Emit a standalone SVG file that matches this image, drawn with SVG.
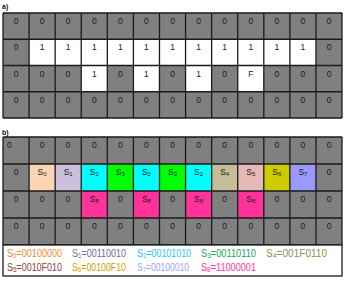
<svg xmlns="http://www.w3.org/2000/svg" width="349" height="286" viewBox="0 0 349 286">
<style>
.t{font-family:"Liberation Sans",Arial,sans-serif;font-size:8.5px;fill:#1a1a1a;text-anchor:middle}
.tl{text-anchor:start}
.s{font-size:6px}
.hd{font-family:"Liberation Sans",Arial,sans-serif;font-size:7px;font-weight:bold;fill:#111}
.lg{font-family:"Liberation Sans",Arial,sans-serif;font-size:10px}
.ls{font-size:7px}
.gl{stroke:#1a1a1a;stroke-width:1.3;fill:none}
.g{fill:#808080}
.w{fill:#fff}
</style>
<rect width="349" height="286" fill="#fff"/>
<text class="hd" x="2" y="9">a)</text>
<text class="hd" x="2" y="135">b)</text>

<g id="gridA">
<rect class="g" x="3" y="13" width="339" height="105"/>
<rect class="w" x="29.08" y="39.25" width="286.88" height="26.25"/>
<rect class="w" x="81.24" y="65.5" width="26.08" height="26.25"/>
<rect class="w" x="133.4" y="65.5" width="26.08" height="26.25"/>
<rect class="w" x="185.56" y="65.5" width="26.08" height="26.25"/>
<rect class="w" x="237.72" y="65.5" width="26.08" height="26.25"/>
<path class="gl" d="M3 13H342M3 39.25H342M3 65.5H342M3 91.75H342M3 118H342M3 13V118M29.08 13V118M55.16 13V118M81.24 13V118M107.32 13V118M133.4 13V118M159.48 13V118M185.56 13V118M211.64 13V118M237.72 13V118M263.8 13V118M289.88 13V118M315.96 13V118M342 13V118"/>
<g class="t">
<text x="16.04" y="24">0</text><text x="42.12" y="24">0</text><text x="68.2" y="24">0</text><text x="94.28" y="24">0</text><text x="120.36" y="24">0</text><text x="146.44" y="24">0</text><text x="172.52" y="24">0</text><text x="198.6" y="24">0</text><text x="224.68" y="24">0</text><text x="250.76" y="24">0</text><text x="276.84" y="24">0</text><text x="302.92" y="24">0</text><text x="329" y="24">0</text>
<text x="16.04" y="50.25">0</text><text x="42.12" y="50.25">1</text><text x="68.2" y="50.25">1</text><text x="94.28" y="50.25">1</text><text x="120.36" y="50.25">1</text><text x="146.44" y="50.25">1</text><text x="172.52" y="50.25">1</text><text x="198.6" y="50.25">1</text><text x="224.68" y="50.25">1</text><text x="250.76" y="50.25">1</text><text x="276.84" y="50.25">1</text><text x="302.92" y="50.25">1</text><text x="329" y="50.25">0</text>
<text x="16.04" y="76.5">0</text><text x="42.12" y="76.5">0</text><text x="68.2" y="76.5">0</text><text x="94.28" y="76.5">1</text><text x="120.36" y="76.5">0</text><text x="146.44" y="76.5">1</text><text x="172.52" y="76.5">0</text><text x="198.6" y="76.5">1</text><text x="224.68" y="76.5">0</text><text x="250.76" y="76.5">F</text><text x="276.84" y="76.5">0</text><text x="302.92" y="76.5">0</text><text x="329" y="76.5">0</text>
<text x="16.04" y="102.75">0</text><text x="42.12" y="102.75">0</text><text x="68.2" y="102.75">0</text><text x="94.28" y="102.75">0</text><text x="120.36" y="102.75">0</text><text x="146.44" y="102.75">0</text><text x="172.52" y="102.75">0</text><text x="198.6" y="102.75">0</text><text x="224.68" y="102.75">0</text><text x="250.76" y="102.75">0</text><text x="276.84" y="102.75">0</text><text x="302.92" y="102.75">0</text><text x="329" y="102.75">0</text>
</g>
</g>

<g id="gridB">
<rect class="g" x="3" y="137" width="339" height="108"/>
<rect fill="#FCD5B4" x="29.08" y="164" width="26.08" height="27"/>
<rect fill="#CCC0DA" x="55.16" y="164" width="26.08" height="27"/>
<rect fill="#00FFFF" x="81.24" y="164" width="26.08" height="27"/>
<rect fill="#00FF00" x="107.32" y="164" width="26.08" height="27"/>
<rect fill="#00FFFF" x="133.4" y="164" width="26.08" height="27"/>
<rect fill="#00FF00" x="159.48" y="164" width="26.08" height="27"/>
<rect fill="#00FFFF" x="185.56" y="164" width="26.08" height="27"/>
<rect fill="#C4BD97" x="211.64" y="164" width="26.08" height="27"/>
<rect fill="#E6B8B7" x="237.72" y="164" width="26.08" height="27"/>
<rect fill="#CCCC00" x="263.8" y="164" width="26.08" height="27"/>
<rect fill="#9999FF" x="289.88" y="164" width="26.08" height="27"/>
<rect fill="#FF3399" x="81.24" y="191" width="26.08" height="27"/>
<rect fill="#FF3399" x="133.4" y="191" width="26.08" height="27"/>
<rect fill="#FF3399" x="185.56" y="191" width="26.08" height="27"/>
<rect fill="#FF3399" x="237.72" y="191" width="26.08" height="27"/>
<path class="gl" d="M3 137H342M3 164H342M3 191H342M3 218H342M3 245H342M3 137V245M29.08 137V245M55.16 137V245M81.24 137V245M107.32 137V245M133.4 137V245M159.48 137V245M185.56 137V245M211.64 137V245M237.72 137V245M263.8 137V245M289.88 137V245M315.96 137V245M342 137V245"/>
<g class="t">
<text class="t tl" x="7" y="147.5">0</text><text x="42.12" y="147.5">0</text><text x="68.2" y="147.5">0</text><text x="94.28" y="147.5">0</text><text x="120.36" y="147.5">0</text><text x="146.44" y="147.5">0</text><text x="172.52" y="147.5">0</text><text x="198.6" y="147.5">0</text><text x="224.68" y="147.5">0</text><text x="250.76" y="147.5">0</text><text x="276.84" y="147.5">0</text><text x="302.92" y="147.5">0</text><text x="329" y="147.5">0</text>
<text x="16.04" y="174.5">0</text>
<text x="42.12" y="174.5">S<tspan class="s" dy="1.5">0</tspan></text>
<text x="68.2" y="174.5">S<tspan class="s" dy="1.5">1</tspan></text>
<text x="94.28" y="174.5">S<tspan class="s" dy="1.5">2</tspan></text>
<text x="120.36" y="174.5">S<tspan class="s" dy="1.5">3</tspan></text>
<text x="146.44" y="174.5">S<tspan class="s" dy="1.5">2</tspan></text>
<text x="172.52" y="174.5">S<tspan class="s" dy="1.5">3</tspan></text>
<text x="198.6" y="174.5">S<tspan class="s" dy="1.5">2</tspan></text>
<text x="224.68" y="174.5">S<tspan class="s" dy="1.5">4</tspan></text>
<text x="250.76" y="174.5">S<tspan class="s" dy="1.5">5</tspan></text>
<text x="276.84" y="174.5">S<tspan class="s" dy="1.5">6</tspan></text>
<text x="302.92" y="174.5">S<tspan class="s" dy="1.5">7</tspan></text>
<text x="329" y="174.5">0</text>
<text x="16.04" y="201.5">0</text><text x="42.12" y="201.5">0</text><text x="68.2" y="201.5">0</text>
<text x="94.28" y="201.5">S<tspan class="s" dy="1.5">8</tspan></text>
<text x="120.36" y="201.5">0</text>
<text x="146.44" y="201.5">S<tspan class="s" dy="1.5">8</tspan></text>
<text x="172.52" y="201.5">0</text>
<text x="198.6" y="201.5">S<tspan class="s" dy="1.5">8</tspan></text>
<text x="224.68" y="201.5">0</text>
<text x="250.76" y="201.5">S<tspan class="s" dy="1.5">8</tspan></text>
<text x="276.84" y="201.5">0</text><text x="302.92" y="201.5">0</text><text x="329" y="201.5">0</text>
<text x="16.04" y="228.5">0</text><text x="42.12" y="228.5">0</text><text x="68.2" y="228.5">0</text><text x="94.28" y="228.5">0</text><text x="120.36" y="228.5">0</text><text x="146.44" y="228.5">0</text><text x="172.52" y="228.5">0</text><text x="198.6" y="228.5">0</text><text x="224.68" y="228.5">0</text><text x="250.76" y="228.5">0</text><text x="276.84" y="228.5">0</text><text x="302.92" y="228.5">0</text><text x="329" y="228.5">0</text>
</g>
</g>

<g id="legend">
<rect x="3" y="245" width="339" height="31" fill="#fff" stroke="#1a1a1a" stroke-width="1.3"/>
<text class="lg" x="7" y="256.5" fill="#F7862E" textLength="55" lengthAdjust="spacingAndGlyphs">S<tspan class="ls" dy="1.5">0</tspan><tspan dy="-1.5">=00100000</tspan></text>
<text class="lg" x="72" y="256.5" fill="#7B6390" textLength="54" lengthAdjust="spacingAndGlyphs">S<tspan class="ls" dy="1.5">1</tspan><tspan dy="-1.5">=00110010</tspan></text>
<text class="lg" x="137" y="256.5" fill="#22C8F8" textLength="54" lengthAdjust="spacingAndGlyphs">S<tspan class="ls" dy="1.5">2</tspan><tspan dy="-1.5">=00101010</tspan></text>
<text class="lg" x="201" y="256.5" fill="#12AA55" textLength="55" lengthAdjust="spacingAndGlyphs">S<tspan class="ls" dy="1.5">3</tspan><tspan dy="-1.5">=00110110</tspan></text>
<text class="lg" x="266" y="256.5" fill="#958A55" textLength="61" lengthAdjust="spacingAndGlyphs">S<tspan class="ls" dy="1.5">4</tspan><tspan dy="-1.5">=001F0110</tspan></text>
<text class="lg" x="7" y="270.5" fill="#943A3C" textLength="55" lengthAdjust="spacingAndGlyphs">S<tspan class="ls" dy="1.5">5</tspan><tspan dy="-1.5">=0010F010</tspan></text>
<text class="lg" x="72" y="270.5" fill="#D09C00" textLength="54" lengthAdjust="spacingAndGlyphs">S<tspan class="ls" dy="1.5">6</tspan><tspan dy="-1.5">=00100F10</tspan></text>
<text class="lg" x="137" y="270.5" fill="#A0A0FF" textLength="52" lengthAdjust="spacingAndGlyphs">S<tspan class="ls" dy="1.5">7</tspan><tspan dy="-1.5">=00100010</tspan></text>
<text class="lg" x="201" y="270.5" fill="#FF3399" textLength="55" lengthAdjust="spacingAndGlyphs">S<tspan class="ls" dy="1.5">8</tspan><tspan dy="-1.5">=11000001</tspan></text>
</g>
</svg>
